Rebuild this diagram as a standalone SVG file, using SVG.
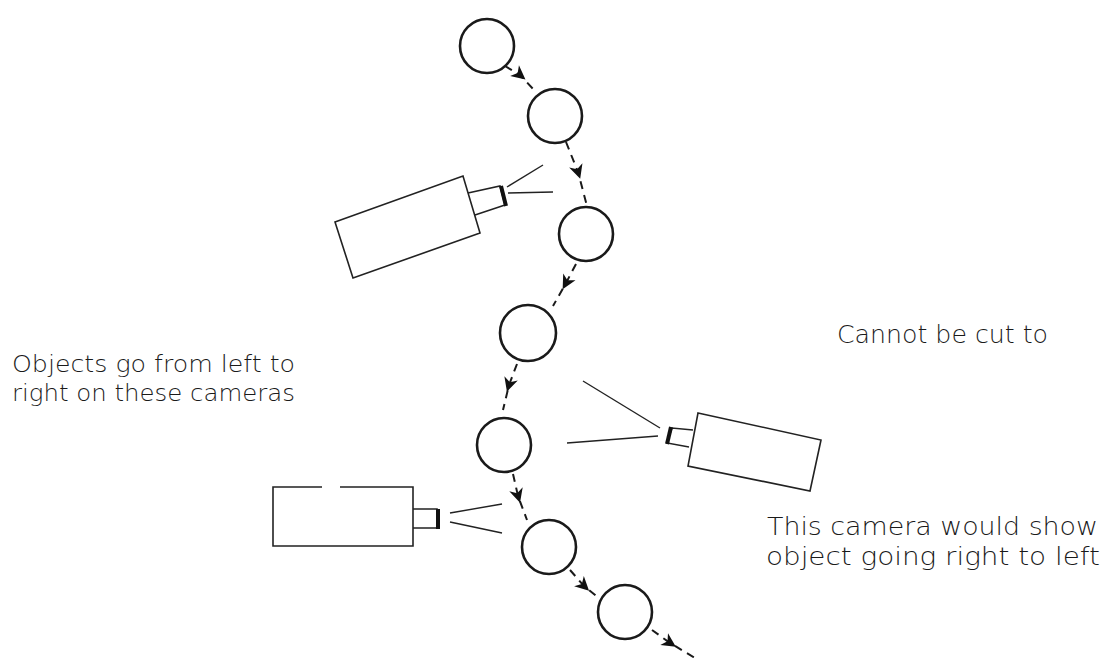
<svg xmlns="http://www.w3.org/2000/svg" width="1103" height="658" viewBox="0 0 1103 658">
<defs>
<marker id="ah" viewBox="-8 -8 16 16" markerWidth="16" markerHeight="16" markerUnits="userSpaceOnUse" orient="auto" refX="0" refY="0">
<path d="M-7,-7 L7,0 L-7,7 L-3,0 Z" fill="#111"/>
</marker>
</defs>
<style>
.obj{fill:none;stroke:#1a1a1a;stroke-width:2.6}
.con{fill:none;stroke:#1a1a1a;stroke-width:2;stroke-dasharray:8 6;marker-mid:url(#ah)}
.cam{fill:none;stroke:#222;stroke-width:1.6;stroke-linejoin:miter}
.lens{fill:none;stroke:#111;stroke-width:4}
.view{fill:none;stroke:#222;stroke-width:1.4}
.lbl{font-family:"DejaVu Sans","Liberation Sans",sans-serif;font-weight:200;fill:#1a1a1a}
</style>
<rect width="1103" height="658" fill="#fff"/>
<g id="connectors">
<polyline class="con" points="505,66 520,75 534,90"/>
<polyline class="con" points="566,142 578,172 587,206"/>
<polyline class="con" points="576,264 566,283 553,306"/>
<polyline class="con" points="517,364 509,385 503,410"/>
<polyline class="con" points="513,474 518,496 527,520"/>
<polyline class="con" points="570,570 584,586 600,599"/>
<polyline class="con" points="652,630 670,643 695,658"/>
</g>
<g id="object1"><circle class="obj" cx="487" cy="46" r="27"/></g>
<g id="object2"><circle class="obj" cx="555" cy="116" r="27"/></g>
<g id="object3"><circle class="obj" cx="586" cy="234" r="27"/></g>
<g id="object4"><circle class="obj" cx="528" cy="333" r="28"/></g>
<g id="object5"><circle class="obj" cx="504" cy="445" r="27"/></g>
<g id="object6"><circle class="obj" cx="549" cy="547" r="27"/></g>
<g id="object7"><circle class="obj" cx="625" cy="612" r="27"/></g>
<g id="camera1">
<polygon class="cam" points="335,222 463,176 480,233 353,278"/>
<polyline class="cam" points="468,193 500,186 505,205 475,215"/>
<line class="lens" x1="501" y1="186" x2="506" y2="206"/>
<line class="view" x1="507" y1="187" x2="543" y2="165"/>
<line class="view" x1="508" y1="193" x2="553" y2="192"/>
</g>
<g id="camera2">
<polygon class="cam" points="698,413 821,440 810,491 688,466"/>
<polyline class="cam" points="693,430 672,428 667,443 689,447"/>
<line class="lens" x1="671" y1="427" x2="667" y2="444"/>
<line class="view" x1="660" y1="428" x2="583" y2="381"/>
<line class="view" x1="658" y1="436" x2="567" y2="443"/>
</g>
<g id="camera3">
<polyline class="cam" points="322,487 273,487 273,546 413,546 413,487 340,487"/>
<polyline class="cam" points="413,509 437,509 437,528 413,528"/>
<line class="lens" x1="438" y1="509" x2="438" y2="529"/>
<line class="view" x1="450" y1="513" x2="502" y2="504"/>
<line class="view" x1="450" y1="522" x2="502" y2="533"/>
</g>
<g id="label-left">
<text class="lbl" x="12" y="372" font-size="23" textLength="283" lengthAdjust="spacingAndGlyphs">Objects go from left to</text>
<text class="lbl" x="12" y="401" font-size="23" textLength="283" lengthAdjust="spacingAndGlyphs">right on these cameras</text>
</g>
<g id="label-cannot">
<text class="lbl" x="837" y="343" font-size="25" textLength="211" lengthAdjust="spacingAndGlyphs">Cannot be cut to</text>
</g>
<g id="label-right">
<text class="lbl" x="767" y="535" font-size="24" textLength="331" lengthAdjust="spacingAndGlyphs">This camera would show</text>
<text class="lbl" x="766" y="565" font-size="24" textLength="334" lengthAdjust="spacingAndGlyphs">object going right to left</text>
</g>
</svg>
